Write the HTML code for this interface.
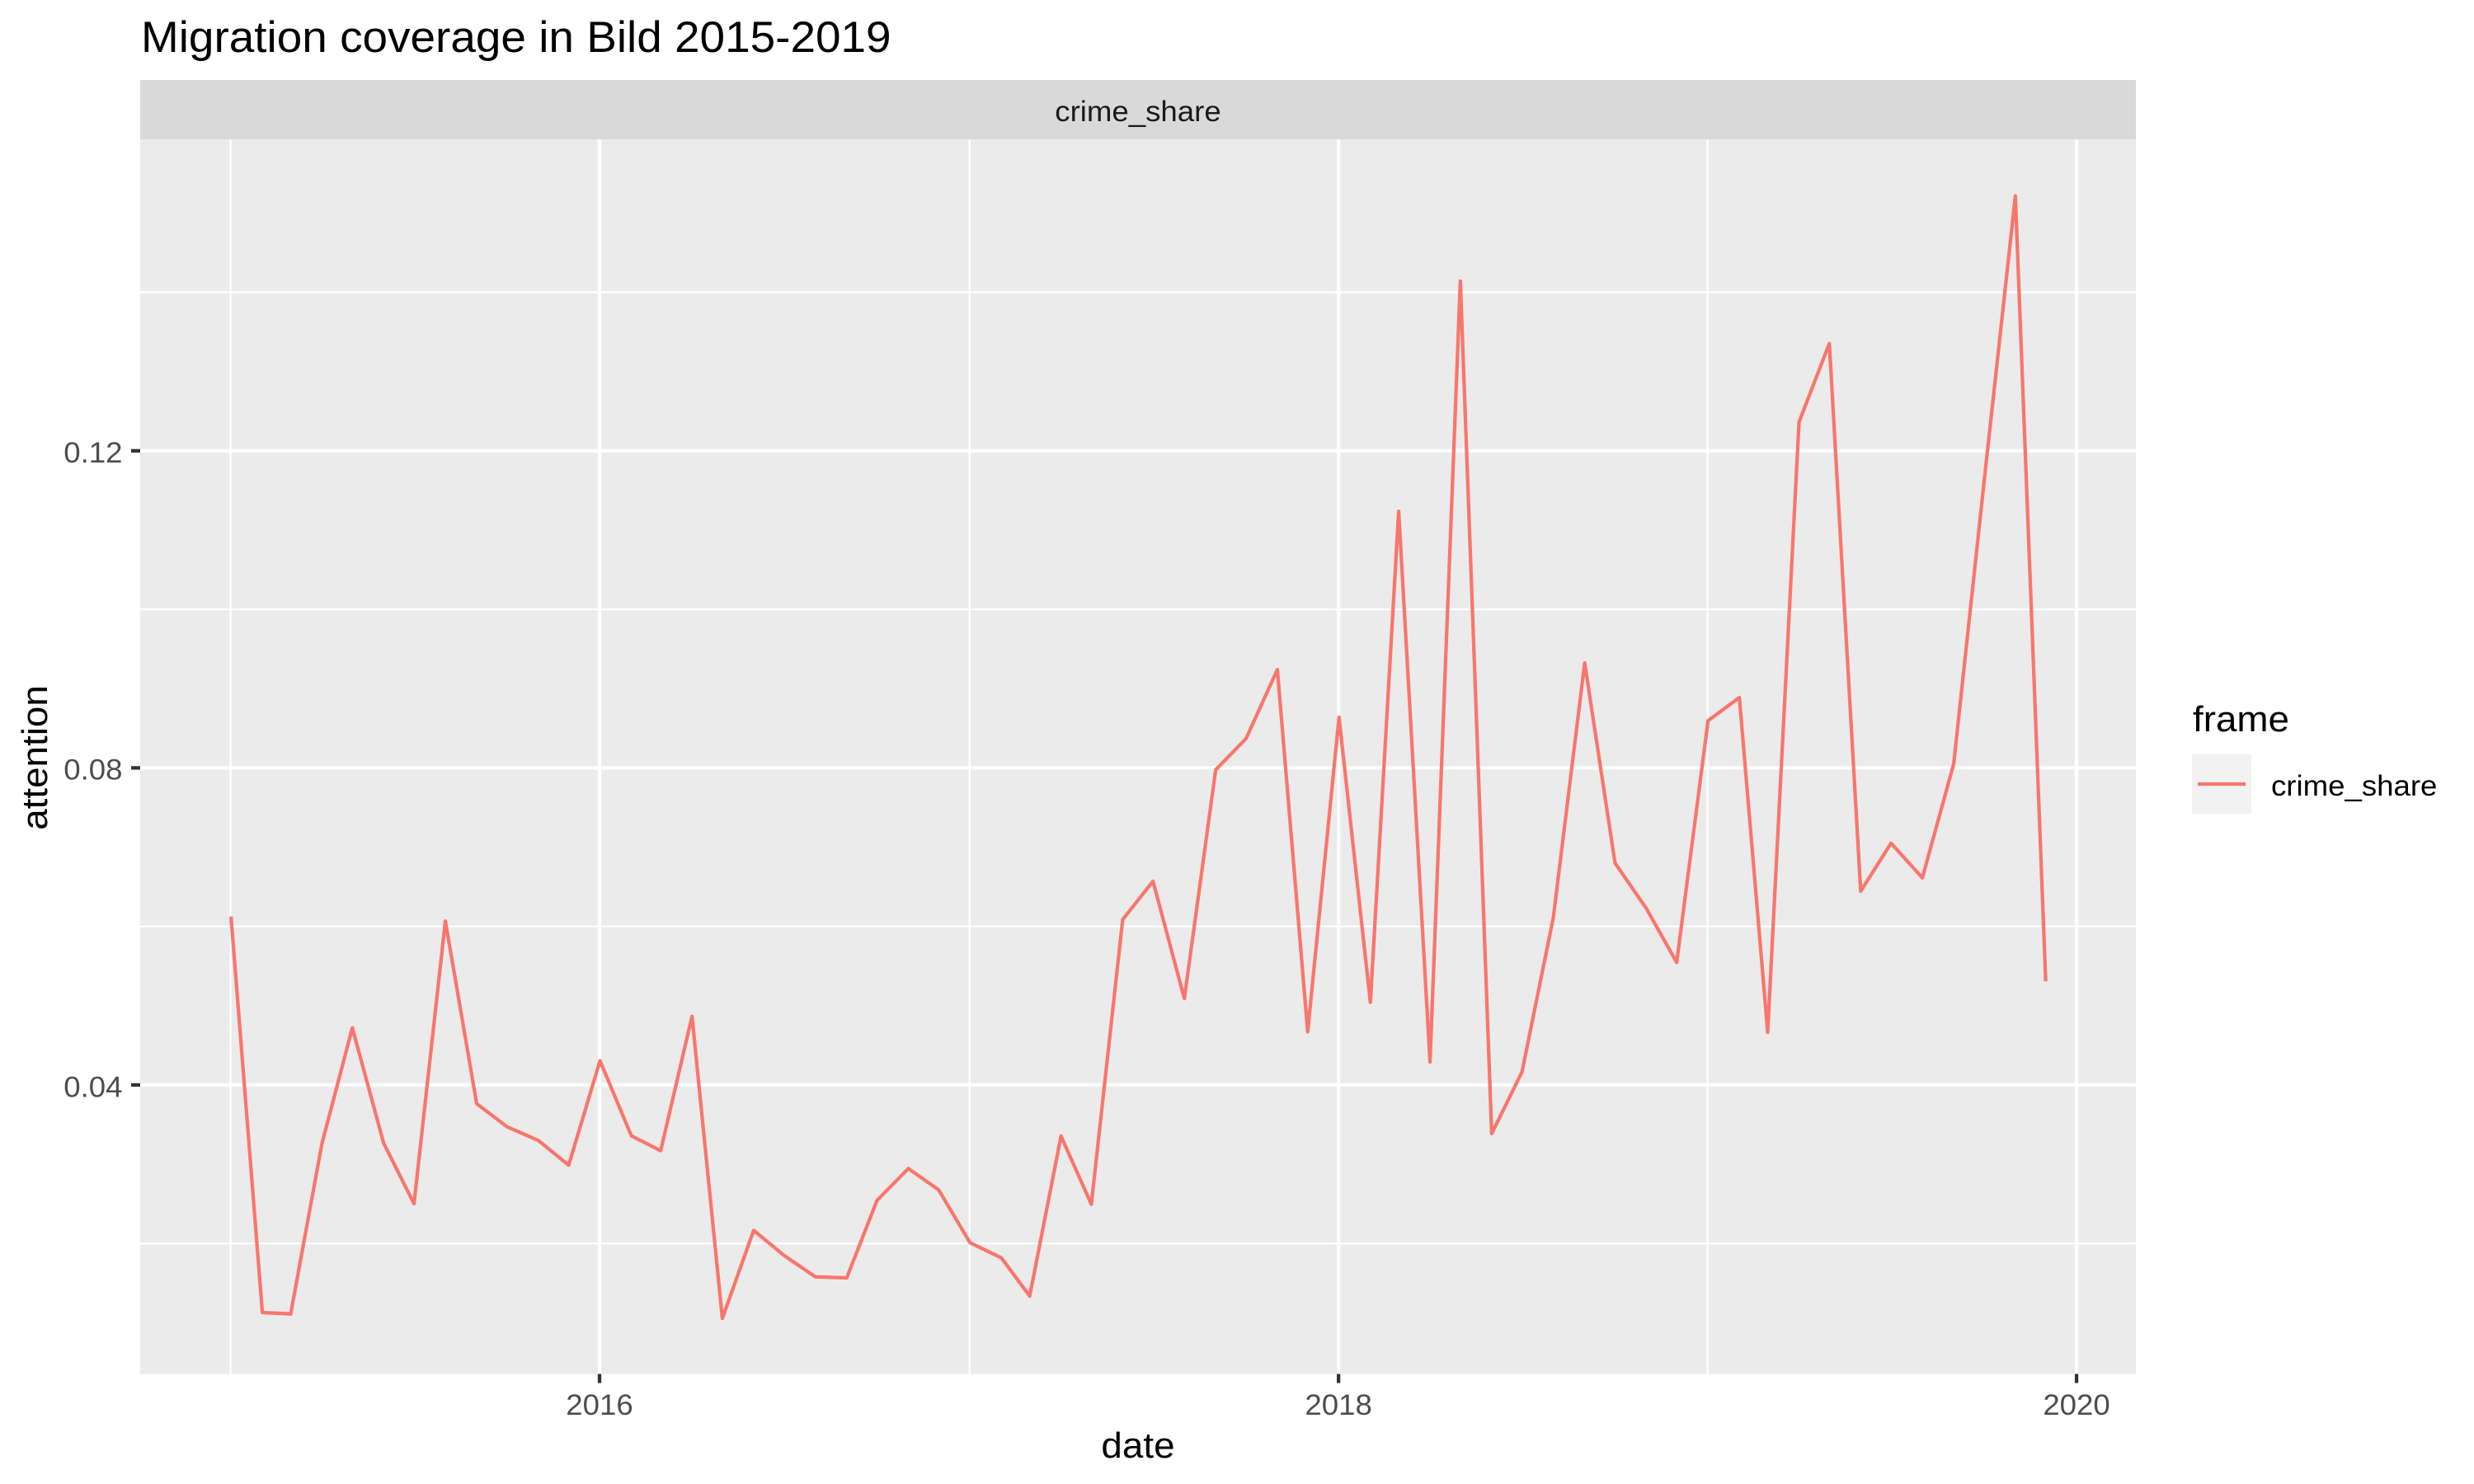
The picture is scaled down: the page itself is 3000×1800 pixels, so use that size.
<!DOCTYPE html>
<html lang="en">
<head>
<meta charset="utf-8">
<title>Migration coverage in Bild 2015-2019</title>
<style>
html,body{margin:0;padding:0;background:#fff;width:3000px;height:1800px;overflow:hidden}
svg{display:block}
text{font-family:"Liberation Sans",Arial,sans-serif}
</style>
</head>
<body>
<svg id="chart" xmlns="http://www.w3.org/2000/svg" width="3000" height="1800" viewBox="0 0 3000 1800">
  <rect x="0" y="0" width="3000" height="1800" fill="#ffffff"/>
  <text x="171" y="63" font-size="52.8" fill="#000000">Migration coverage in Bild 2015-2019</text>
  <rect x="170" y="97" width="2420" height="72" fill="#D9D9D9"/>
  <text x="1380" y="147" font-size="35.2" fill="#1A1A1A" text-anchor="middle">crime_share</text>
  <rect x="170" y="169" width="2420" height="1497.5" fill="#EBEBEB"/>
  <g id="grid-minor"></g>
  <g id="grid-major"></g>
  <g id="series" transform="translate(0.6,0)"></g>
  <g id="y-axis"></g>
  <g id="x-axis"></g>
  <text x="1380" y="1768" font-size="44" fill="#000000" text-anchor="middle">date</text>
  <text transform="translate(57,919) rotate(-90)" x="0" y="0" font-size="44" fill="#000000" text-anchor="middle">attention</text>
  <g>
    <text x="2659" y="887" font-size="44" fill="#000000">frame</text>
    <rect x="2658" y="915" width="72" height="72" fill="#F2F2F2"/>
    <line x1="2665" x2="2723" y1="951" y2="951" stroke="#F8766D" stroke-width="4.27"/>
    <text x="2754" y="965" font-size="35.2" fill="#000000">crime_share</text>
  </g>
</svg>
<script>
const dates = [
  "2015-01-01","2015-02-01","2015-03-01","2015-04-01","2015-05-01","2015-06-01",
  "2015-07-01","2015-08-01","2015-09-01","2015-10-01","2015-11-01","2015-12-01",
  "2016-01-01","2016-02-01","2016-03-01","2016-04-01","2016-05-01","2016-06-01",
  "2016-07-01","2016-08-01","2016-09-01","2016-10-01","2016-11-01","2016-12-01",
  "2017-01-01","2017-02-01","2017-03-01","2017-04-01","2017-05-01","2017-06-01",
  "2017-07-01","2017-08-01","2017-09-01","2017-10-01","2017-11-01","2017-12-01",
  "2018-01-01","2018-02-01","2018-03-01","2018-04-01","2018-05-01","2018-06-01",
  "2018-07-01","2018-08-01","2018-09-01","2018-10-01","2018-11-01","2018-12-01",
  "2019-01-01","2019-02-01","2019-03-01","2019-04-01","2019-05-01","2019-06-01",
  "2019-07-01","2019-08-01","2019-09-01","2019-10-01","2019-11-01","2019-12-01"
];
const crimeShare = [
  0.06125,0.01129,0.01112,0.03265,0.04721,0.03265,0.02502,0.06067,0.03764,0.03473,0.03300,0.02988,
  0.04305,0.03358,0.03171,0.04866,0.01054,0.02166,0.01850,0.01580,0.01566,0.02544,0.02946,0.02676,
  0.02010,0.01819,0.01337,0.03355,0.02495,0.06087,0.06570,0.05090,0.07976,0.08369,0.09240,0.04671,
  0.08639,0.05042,0.11237,0.04291,0.14140,0.03386,0.04166,0.06114,0.09325,0.06800,0.06226,0.05546,
  0.08595,0.08888,0.04666,0.12362,0.13354,0.06444,0.07050,0.06613,0.08050,0.11603,0.15215,0.05307
];
const xMajorTicks = ["2016-01-01","2018-01-01","2020-01-01"];
const xMinorTicks = ["2015-01-01","2017-01-01","2019-01-01"];
const xTickLabels = ["2016","2018","2020"];
const yMajorTicks = [0.04,0.08,0.12];
const yMinorTicks = [0.02,0.06,0.10,0.14];
const yTickLabels = ["0.04","0.08","0.12"];

const NS = "http://www.w3.org/2000/svg";
const PANEL = {left:170, right:2590, top:169, bottom:1666.5};
const DAY = 86400000;
const X_ORIGIN = Date.UTC(2016,0,1);
function xScale(d){
  return 727 + (Date.parse(d + "T00:00:00Z") - X_ORIGIN) / DAY * 1.2259;
}
function yScale(v){
  return 1316 - (v - 0.04) * 9615;
}
function makeLine(parent, x1, y1, x2, y2, stroke, width){
  const l = document.createElementNS(NS, "line");
  l.setAttribute("x1", x1);
  l.setAttribute("y1", y1);
  l.setAttribute("x2", x2);
  l.setAttribute("y2", y2);
  l.setAttribute("stroke", stroke);
  l.setAttribute("stroke-width", width);
  parent.appendChild(l);
  return l;
}
function makeText(parent, x, y, str, anchor){
  const t = document.createElementNS(NS, "text");
  t.setAttribute("x", x);
  t.setAttribute("y", y);
  t.setAttribute("font-size", "35.2");
  t.setAttribute("fill", "#4D4D4D");
  t.setAttribute("text-anchor", anchor);
  t.textContent = str;
  parent.appendChild(t);
  return t;
}
const gMinor = document.getElementById("grid-minor");
const gMajor = document.getElementById("grid-major");
const gSeries = document.getElementById("series");
const gY = document.getElementById("y-axis");
const gX = document.getElementById("x-axis");

yMinorTicks.forEach(function(v){
  const el = makeLine(gMinor, PANEL.left, yScale(v), PANEL.right, yScale(v), "#FFFFFF", 2.13);
  
  
});
xMinorTicks.forEach(function(d){
  const el = makeLine(gMinor, xScale(d), PANEL.top, xScale(d), PANEL.bottom, "#FFFFFF", 2.13);
  
  
});
yMajorTicks.forEach(function(v, i){
  const y = yScale(v);
  const el = makeLine(gMajor, PANEL.left, y, PANEL.right, y, "#FFFFFF", 4.27);
  
  
  const tick = makeLine(gY, PANEL.left - 11, y, PANEL.left, y, "#333333", 4.27);
  
  
  const label = makeText(gY, 148.5, y + 14.3, yTickLabels[i], "end");
  
  
});
xMajorTicks.forEach(function(d, i){
  const x = xScale(d);
  const el = makeLine(gMajor, x, PANEL.top, x, PANEL.bottom, "#FFFFFF", 4.27);
  
  
  const tick = makeLine(gX, x, PANEL.bottom, x, PANEL.bottom + 11, "#333333", 4.27);
  
  
  const label = makeText(gX, x, 1716, xTickLabels[i], "middle");
  
  
});

const path = document.createElementNS(NS, "path");


path.setAttribute("d", crimeShare.map(function(v, i){
  return (i ? "L" : "M") + xScale(dates[i]).toFixed(2) + " " + yScale(v).toFixed(2);
}).join(" "));
path.setAttribute("fill", "none");
path.setAttribute("stroke", "#F8766D");
path.setAttribute("stroke-width", "4.27");
path.setAttribute("stroke-linejoin", "round");
path.setAttribute("stroke-linecap", "butt");
gSeries.appendChild(path);

// The reference text runs about 4% wider than the metric-compatible font.
document.querySelectorAll("text").forEach(function(t){
  t.setAttribute("textLength", (t.getComputedTextLength() * 1.04).toFixed(1));
  t.setAttribute("lengthAdjust", "spacingAndGlyphs");
});
</script>
</body>
</html>
